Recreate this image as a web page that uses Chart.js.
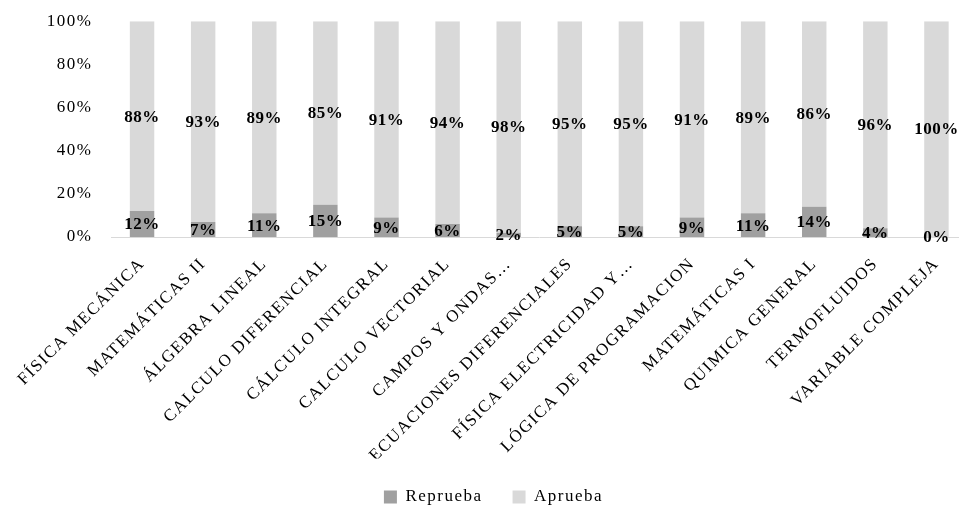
<!DOCTYPE html>
<html>
<head>
<meta charset="utf-8">
<script src="https://cdn.jsdelivr.net/npm/chart.js@4"></script>
<style>
  html, body { margin: 0; padding: 0; background: #fff; overflow: hidden; }
  #wrap { width: 968px; height: 512px; }
</style>
</head>
<body>
<div id="wrap"><canvas id="c" width="968" height="512"></canvas></div>
<script>
// Asignaturas y porcentaje de estudiantes que reprueban / aprueban
const categories = [
  'FÍSICA MECÁNICA', 'MATEMÁTICAS II', 'ÁLGEBRA LINEAL', 'CALCULO DIFERENCIAL',
  'CÁLCULO INTEGRAL', 'CALCULO VECTORIAL', 'CAMPOS Y ONDAS…', 'ECUACIONES DIFERENCIALES',
  'FÍSICA ELECTRICIDAD Y…', 'LÓGICA DE PROGRAMACION', 'MATEMÁTICAS I', 'QUIMICA GENERAL',
  'TERMOFLUIDOS', 'VARIABLE COMPLEJA'
];
const reprueba = [12, 7, 11, 15, 9, 6, 2, 5, 5, 9, 11, 14, 4, 0];
const aprueba  = [88, 93, 89, 85, 91, 94, 98, 95, 95, 91, 89, 86, 96, 100];
const yTicks = [0, 20, 40, 60, 80, 100];

const SERIF = '"Liberation Serif", "DejaVu Serif", serif';

// Espaciado de letras amplio para todo el texto del gráfico
const tracking = {
  id: 'tracking',
  beforeLayout(chart) { chart.ctx.letterSpacing = '1.5px'; },
  beforeDraw(chart) { chart.ctx.letterSpacing = '1.5px'; }
};

// Desplaza la leyenda un poco a la derecha
const legendShift = {
  id: 'legendShift',
  afterLayout(chart) {
    const l = chart.legend;
    if (l) { l.left += 10; l.right += 10; }
  }
};

// Etiquetas de valor centradas en cada segmento de la barra
const segmentLabels = {
  id: 'segmentLabels',
  afterDatasetsDraw(chart) {
    const ctx = chart.ctx;
    ctx.save();
    ctx.letterSpacing = '0.5px';
    ctx.font = 'bold 17px ' + SERIF;
    ctx.fillStyle = '#000';
    ctx.textAlign = 'center';
    ctx.textBaseline = 'middle';
    chart.data.datasets.forEach((ds, di) => {
      const meta = chart.getDatasetMeta(di);
      meta.data.forEach((bar, i) => {
        const y = (bar.y + bar.base) / 2;
        ctx.fillText(ds.data[i] + '%', bar.x, y + 1);
      });
    });
    ctx.restore();
  }
};

new Chart(document.getElementById('c'), {
  type: 'bar',
  data: {
    labels: categories,
    datasets: [
      { label: 'Reprueba', data: reprueba, backgroundColor: '#a0a0a0' },
      { label: 'Aprueba', data: aprueba, backgroundColor: '#d9d9d9' }
    ]
  },
  options: {
    responsive: false,
    animation: false,
    layout: { padding: { top: 16, left: 0, right: 1, bottom: -3.5 } },
    datasets: { bar: { categoryPercentage: 1, barPercentage: 0.4 } },
    scales: {
      x: {
        stacked: true,
        grid: { display: false },
        border: { display: true, color: '#d9d9d9', width: 1 },
        ticks: {
          color: '#000',
          font: { family: SERIF, size: 17 },
          minRotation: 45, maxRotation: 45,
          autoSkip: false, padding: 9
        },
        afterFit(s) { s.height = 221.5; }
      },
      y: {
        stacked: true,
        min: 0, max: 100,
        afterBuildTicks(s) { s.ticks = yTicks.map(v => ({ value: v })); },
        grid: { display: false },
        border: { display: false },
        ticks: {
          color: '#000',
          font: { family: SERIF, size: 17 },
          padding: 11,
          callback: v => v + '%'
        },
        afterFit(s) { s.width = 111.5; }
      }
    },
    plugins: {
      legend: {
        position: 'bottom',
        labels: {
          color: '#000',
          font: { family: SERIF, size: 17 },
          boxWidth: 13, boxHeight: 13, padding: 30
        }
      },
      tooltip: { enabled: false }
    }
  },
  plugins: [tracking, legendShift, segmentLabels]
});
</script>
</body>
</html>
